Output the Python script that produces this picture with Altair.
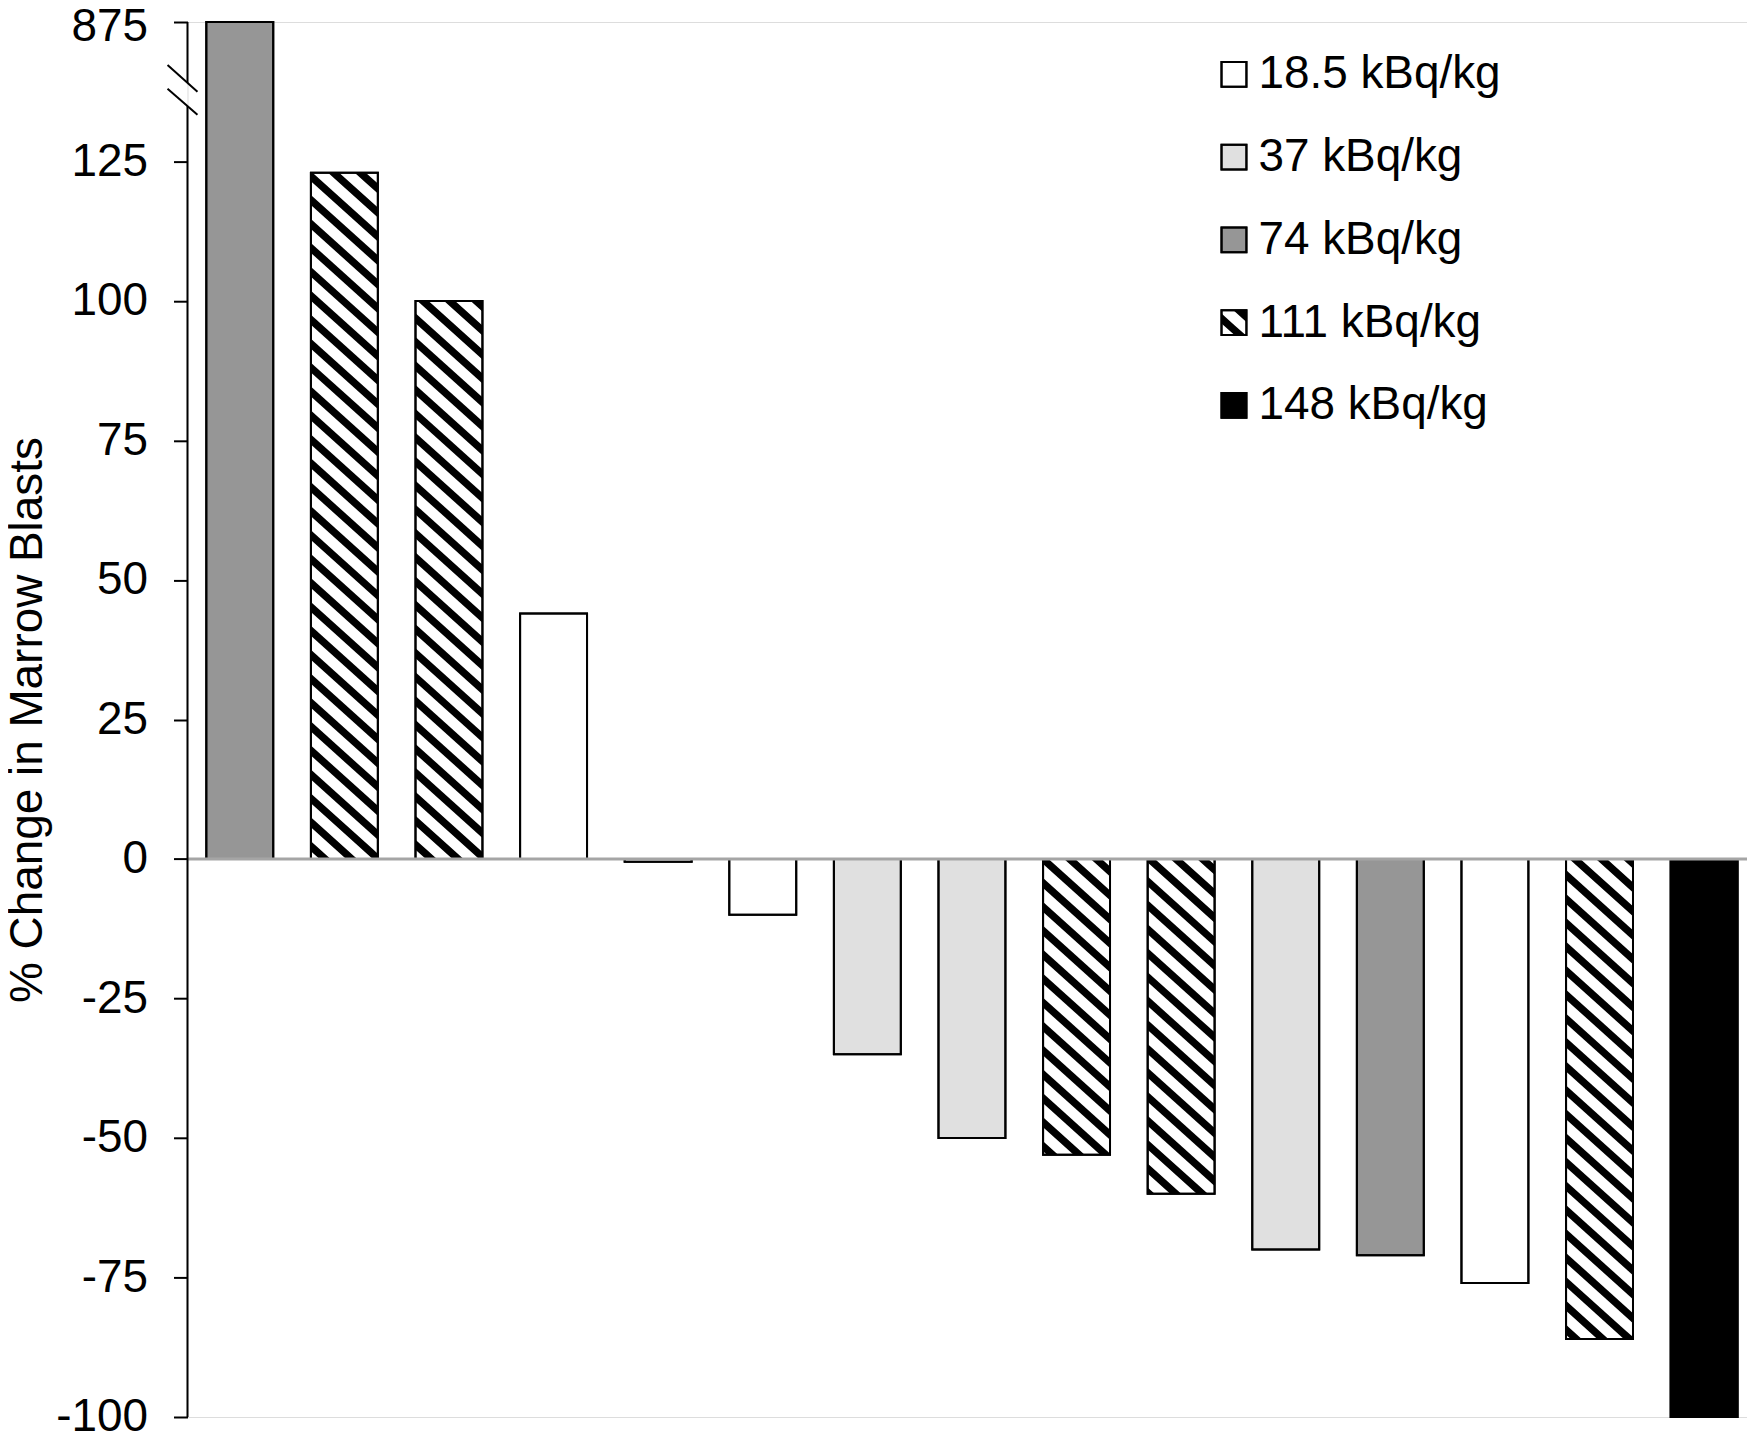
import math
import altair as alt
import pandas as pd

# ---------------- data ----------------
doses = ["18.5 kBq/kg", "37 kBq/kg", "74 kBq/kg", "111 kBq/kg", "148 kBq/kg"]
dose_fill = ["#ffffff", "#e0e0e0", "#969696", "#ffffff", "#000000"]
hatched_dose = "111 kBq/kg"

patient_dose = ["74 kBq/kg", "111 kBq/kg", "111 kBq/kg", "18.5 kBq/kg", "18.5 kBq/kg",
                "18.5 kBq/kg", "37 kBq/kg", "37 kBq/kg", "111 kBq/kg", "111 kBq/kg",
                "37 kBq/kg", "74 kBq/kg", "18.5 kBq/kg", "111 kBq/kg", "148 kBq/kg"]
pct_change = [875, 123, 100, 44, -0.5, -10, -35, -50, -53, -60, -70, -71, -76, -86, -100]

y_tick_values = [-100, -75, -50, -25, 0, 25, 50, 75, 100, 125, 150]
axis_cap = 150          # the broken axis: position 150 is labelled 875
axis_cap_label = "875"
y_title = "% Change in Marrow Blasts"

# ---------------- layout ----------------
W, H = 1564, 1399
X_DOM = [-0.5, 14.41]
Y_DOM = [-100, 150]
HALF = 0.32
sx = W / (X_DOM[1] - X_DOM[0])
sy = H / (Y_DOM[1] - Y_DOM[0])
FONT = "Liberation Sans"
FS = 46

def px_to_x(px):
    return X_DOM[0] + px / sx

def py_to_y(py):
    return Y_DOM[1] - py / sy

bars = pd.DataFrame({
    "idx": list(range(len(pct_change))),
    "value": pct_change,
    "dose": patient_dose,
})

# hatch geometry (diagonal stripes running down to the right)
k = 0.9 * sx / sy
P = 24 / sy
T = 10 / sy

def hatch_rows(L, R, bot, top, key, phase=0.0):
    rows = []
    umin, umax = bot + k * L, top + k * R
    n0 = math.floor((umin - T - phase) / P) - 1
    n1 = math.ceil((umax - phase) / P) + 1
    for n in range(n0, n1 + 1):
        a = n * P + phase
        b = a + T
        xs = {L, R}
        for c in (a, b):
            for lim in (bot, top):
                xx = (c - lim) / k
                if L < xx < R:
                    xs.add(xx)
        pts = []
        for xx in sorted(xs):
            lo = max(bot, a - k * xx)
            hi = min(top, b - k * xx)
            if hi < lo:
                hi = lo
            pts.append((xx, lo, hi))
        if any(p[2] - p[1] > 1e-9 for p in pts):
            for xx, lo, hi in pts:
                rows.append({"sid": f"{key}_{n}", "x": xx, "lo": lo, "hi": hi})
    return rows

hrows = []
for i, (v, d) in enumerate(zip(pct_change, patient_dose)):
    if d == hatched_dose:
        v2 = min(v, axis_cap)
        hrows += hatch_rows(i - HALF, i + HALF, min(0, v2), max(0, v2), f"b{i}")

# legend (positions in plot pixels, converted to data coordinates)
leg_cx = 1049.5
leg_cy = [52.5, 135.5, 218.5, 301.5, 384.5]
leg_half = 12.5
leg_text_px = 1074
legend = pd.DataFrame({
    "dose": doses,
    "x": [px_to_x(leg_cx - leg_half)] * 5,
    "x2": [px_to_x(leg_cx + leg_half)] * 5,
    "y": [py_to_y(c + leg_half) for c in leg_cy],
    "y2": [py_to_y(c - leg_half) for c in leg_cy],
    "tx": [px_to_x(leg_text_px)] * 5,
    "ty": [py_to_y(c) for c in leg_cy],
})
li = doses.index(hatched_dose)
hrows += hatch_rows(legend.x[li], legend.x2[li], legend.y[li], legend.y2[li], "leg",
                    phase=P * 0.3)
hatch = pd.DataFrame(hrows)

# axis line with break
gap_lo, gap_hi = 134.9, 139.1
axis_line = pd.DataFrame({"y": [Y_DOM[0], gap_hi], "y2": [gap_lo, Y_DOM[1]]})
slashes = pd.DataFrame({
    "x": [px_to_x(-20), px_to_x(-20)],
    "x2": [px_to_x(10), px_to_x(10)],
    "y": [py_to_y(43), py_to_y(67)],
    "y2": [py_to_y(70), py_to_y(93)],
})

# ---------------- encodings ----------------
xs = alt.Scale(domain=X_DOM, nice=False, zero=False)
ys = alt.Scale(domain=Y_DOM, nice=False, zero=False)
yaxis = alt.Axis(
    values=y_tick_values, grid=False, domain=False,
    labelExpr=f"datum.value == {axis_cap} ? '{axis_cap_label}' : toString(datum.value)",
    labelFont=FONT, labelFontSize=FS, labelColor="black", labelPadding=26,
    labelOverlap=False,
    labelOffset={"condition": {"test": f"datum.value == {axis_cap}", "value": 5}, "value": 0},
    tickColor="black", tickSize=14, tickWidth=2,
    title=y_title, titleFont=FONT, titleFontSize=FS, titleFontWeight="normal",
    titleColor="black", titleAngle=270, titleX=-146, titleY=H / 2,
    titleAlign="center", titleBaseline="alphabetic",
)

def X(f):
    return alt.X(f, type="quantitative", scale=xs, axis=None)

def Y(f):
    return alt.Y(f, type="quantitative", scale=ys, axis=yaxis)

color = alt.Color("dose:N", scale=alt.Scale(domain=doses, range=dose_fill), legend=None)

base_bars = alt.Chart(bars).transform_calculate(
    v=f"min(datum.value, {axis_cap})",
    x0=f"datum.idx - {HALF}",
    x1=f"datum.idx + {HALF}",
)

bar_fill = base_bars.mark_rect(stroke="black", strokeWidth=2).encode(
    x=X("x0"), x2="x1", y=Y("v"), y2=alt.datum(0), fill=color)

leg_fill = alt.Chart(legend).mark_rect(stroke="black", strokeWidth=2).encode(
    x=X("x"), x2="x2", y=Y("y"), y2="y2", fill=color)

hatch_layer = alt.Chart(hatch).mark_area(color="black", orient="vertical", strokeWidth=0).encode(
    x=X("x"), y=Y("lo"), y2="hi", detail="sid:N")

bar_outline = base_bars.mark_rect(fillOpacity=0, stroke="black", strokeWidth=2).encode(
    x=X("x0"), x2="x1", y=Y("v"), y2=alt.datum(0))

leg_out = alt.Chart(legend).mark_rect(fillOpacity=0, stroke="black", strokeWidth=2).encode(
    x=X("x"), x2="x2", y=Y("y"), y2="y2")

zero_line = alt.Chart(pd.DataFrame({"y": [0]})).mark_rule(
    color="#a5a5a5", strokeWidth=3).encode(
    y=Y("y"), x=alt.value(0), x2=alt.value(W))

axis_rules = alt.Chart(axis_line).mark_rule(color="black", strokeWidth=2).encode(
    x=alt.value(0), y=Y("y"), y2="y2")

slash_rules = alt.Chart(slashes).mark_rule(color="black", strokeWidth=2).encode(
    x=X("x"), x2="x2", y=Y("y"), y2="y2")

leg_text = alt.Chart(legend).mark_text(
    align="left", baseline="middle", font=FONT, fontSize=FS, color="black").encode(
    x=X("tx"), y=Y("ty"), text="dose:N")

chart = alt.layer(
    bar_fill, leg_fill, hatch_layer, bar_outline, leg_out, zero_line,
    axis_rules, slash_rules, leg_text,
).properties(
    width=W, height=H,
    autosize=alt.AutoSizeParams(type="none"),
    padding={"left": 180, "top": 12, "right": 0, "bottom": 16},
).configure_view(stroke=None).configure(background="white", font=FONT)

chart.save("out.html", embed_options={"renderer": "svg", "actions": False})
